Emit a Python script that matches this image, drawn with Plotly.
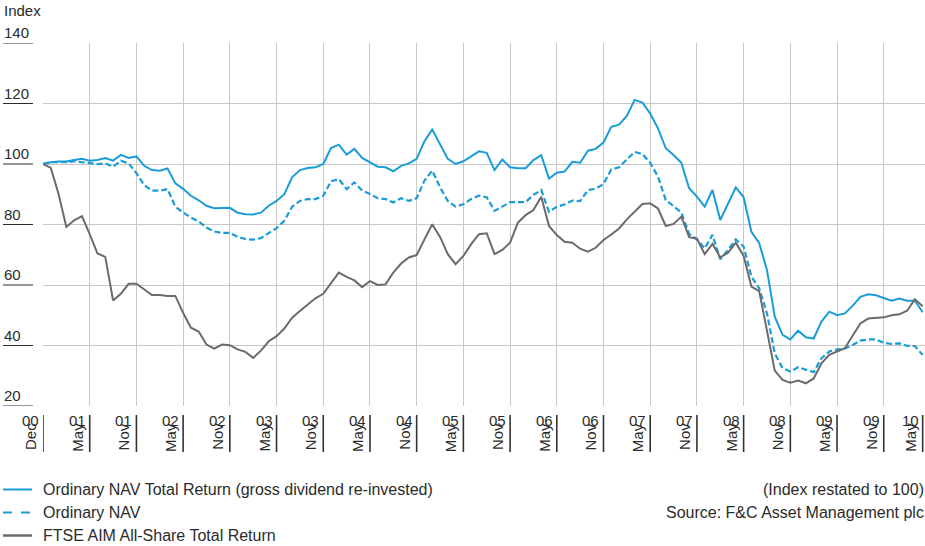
import plotly.graph_objects as go

# ---- data (monthly, Dec 2000 = 100) ----
nav_total_return = [100, 100.6, 100.8, 100.8, 101.3, 101.7, 101.1, 101.3, 102, 101.1, 103, 102, 102.5, 99.4, 98, 97.8, 98.5, 93.6, 91.8, 89.5, 88, 86.2, 85.4, 85.4, 85.5, 83.9, 83.4, 83.3, 83.9, 86.2, 87.8, 90, 95.6, 98, 98.7, 98.9, 100, 105.3, 106.4, 103.1, 105, 102, 100.6, 99.1, 98.9, 97.6, 99.4, 100.2, 101.7, 107.5, 111.4, 106.6, 101.7, 100, 100.9, 102.5, 104.2,
                    103.7, 98, 101.5, 98.9, 98.6, 98.6, 101.3, 102.9, 95.2, 97.1, 97.5, 100.7, 100.4, 104.4, 105, 107.1, 112.3, 113, 115.9, 121.2, 120.3, 116.7, 111.8, 105.2, 103, 100.4, 92, 89.2, 85.9, 91.4, 81.5, 86.8, 92.3, 89, 77.6, 73.8, 65, 49.5, 43.5, 42, 44.9, 42.7, 42.3, 47.9, 51.2, 50, 50.6, 53.1, 56.1, 56.9, 56.6, 55.7, 54.8, 55.5, 54.8, 54.8, 51]
nav = [100, 100.6, 100.6, 100.6, 100.9, 100.6, 100.2, 100, 100.2, 99.1, 101.1, 100.2, 97, 93, 91.2, 91.2, 91.7, 85.9, 84, 82.3, 81, 79, 77.7, 77.2, 77.2, 75.9, 75.2, 75, 75.5, 77.3, 78.8, 81.2, 85.9, 87.8, 88.4, 88.4, 89.5, 94.3, 95, 91.7, 93.9, 91.2, 90.1, 88.7, 88.4, 87.3, 88.7, 87.8, 88.7, 94.5, 97.8, 92.3, 87.8, 85.9, 86.7, 88.4, 89.5,
       89, 84.5, 85.9, 87.4, 87.4, 87.4, 89.8, 91.4, 84.2, 85.9, 86.6, 87.9, 87.7, 91.4, 91.8, 93.4, 98.2, 98.9, 101.5, 104, 103.3, 100.4, 95.8, 88.1, 86.1, 83.9, 76.9, 75.1, 72.1, 76.6, 68.5, 71.6, 75.1, 72.7, 62.8, 58.9, 50.6, 37.4, 32.5, 31.4, 32.8, 31.9, 31.2, 35.8, 38, 38.7, 39, 40.2, 41.6, 42, 42, 40.9, 40.5, 40.7, 39.9, 39.8, 36.9]
aim_total_return = [100, 98.7, 90.1, 79.2, 81.4, 82.8, 76.8, 70.4, 69.3, 54.9, 57.1, 60.4, 60.4, 58.6, 56.7, 56.7, 56.4, 56.4, 50.8, 45.9, 44.6, 40.3, 39, 40.3, 40.1, 38.7, 37.9, 35.9, 38.3, 41.4, 43.1, 45.6, 49.2, 51.4, 53.6, 55.6, 57.1, 60.8, 64.1, 62.7, 61.5, 59.3, 61.3, 60, 60.2, 64.1, 67.1, 69.1, 69.9, 75.1, 80.1, 75.9, 70.2, 66.9, 69.6, 73.5, 76.8,
                    77.1, 70.2, 71.6, 74, 80.6, 83.1, 84.8, 89.2, 79.5, 76.5, 74.3, 74, 72, 71, 72.3, 74.9, 76.7, 78.7, 81.7, 84.2, 86.8, 87, 85.3, 79.5, 80.2, 82.6, 75.8, 75.3, 70.2, 73.6, 69.1, 70.7, 74, 69.6, 59.5, 58, 44.6, 31.7, 28.6, 27.7, 28.4, 27.5, 29.1, 34.1, 36.9, 38, 39.1, 43.2, 47.3, 48.9, 49.1, 49.3, 50, 50.3, 51.5, 55.3, 53]

tick_months = ["Dec"] + ["May", "Nov"] * 9 + ["May"]
tick_years = ["00", "01", "01", "02", "02", "03", "03", "04", "04", "05",
              "05", "06", "06", "07", "07", "08", "08", "09", "09", "10"]
y_ticks = [20, 40, 60, 80, 100, 120, 140]

series_names = ["Ordinary NAV Total Return (gross dividend re-invested)",
                "Ordinary NAV", "FTSE AIM All-Share Total Return"]
notes = ["(Index restated to 100)", "Source: F&C Asset Management plc"]

# ---- styling ----
BLUE = "#1a9cd8"
GREY = "#6b6b6d"
TEXT = "#2b2b2b"
FONT = "Liberation Sans, Arial, sans-serif"
FS = 15
FS_LEG = 16

n = len(nav)
x = list(range(n))
tick_pos = [min(6 * i, n - 1) for i in range(len(tick_months))]

fig = go.Figure()
fig.add_trace(go.Scatter(x=x, y=nav_total_return, mode="lines",
                         line=dict(color=BLUE, width=2), name=series_names[0]))
fig.add_trace(go.Scatter(x=x, y=nav, mode="lines",
                         line=dict(color=BLUE, width=2.2, dash="6px,3px"), name=series_names[1]))
fig.add_trace(go.Scatter(x=x, y=aim_total_return, mode="lines",
                         line=dict(color=GREY, width=2), name=series_names[2]))

L, R, T, B = 43, 0, 43, 140
W, H = 925, 546
pw = W - L - R
ph = H - T - B

def px_x(p):  # pixel offset from plot left -> paper
    return p / pw

def px_y(p):  # pixel y (from top of page) -> paper
    return (H - B - p) / ph

shapes = []
annotations = []

# y labels with underline
for v in y_ticks:
    shapes.append(dict(type="line", xref="paper", yref="y",
                       x0=px_x(3 - L), x1=px_x(33 - L), y0=v, y1=v,
                       line=dict(color=TEXT, width=1)))
    annotations.append(dict(xref="paper", yref="y", x=px_x(2 - L), y=v,
                            text=str(v), showarrow=False, xanchor="left",
                            yanchor="bottom", yshift=0,
                            font=dict(family=FONT, size=FS, color=TEXT)))

annotations.append(dict(xref="paper", yref="paper", x=px_x(2 - L), y=px_y(10),
                        text="Index", showarrow=False, xanchor="left", yanchor="middle",
                        font=dict(family=FONT, size=FS, color=TEXT)))

# x labels: year (horizontal) + month (rotated) + tick bar
for pos, mo, yr in zip(tick_pos, tick_months, tick_years):
    shapes.append(dict(type="line", xref="x", yref="paper", x0=pos, x1=pos,
                       y0=px_y(415), y1=px_y(452), layer="above",
                       line=dict(color="#333333", width=1.6)))
    annotations.append(dict(xref="x", yref="paper", x=pos, y=px_y(410),
                            text=yr, showarrow=False, xanchor="right", yanchor="top",
                            xshift=-2, font=dict(family=FONT, size=FS, color=TEXT)))
    annotations.append(dict(xref="x", yref="paper", x=pos, y=px_y(421),
                            text=mo, showarrow=False, textangle=-90,
                            xanchor="right", yanchor="top", xshift=-2,
                            font=dict(family=FONT, size=FS, color=TEXT)))

# legend (manual)
leg_y = [489.5, 512.5, 535.5]
leg_styles = [dict(color=BLUE, width=2), dict(color=BLUE, width=2.2, dash="dash"),
              dict(color=GREY, width=2.5)]
for yy, name, st in zip(leg_y, series_names, leg_styles):
    shapes.append(dict(type="line", xref="paper", yref="paper",
                       x0=px_x(3 - L), x1=px_x(32 - L), y0=px_y(yy), y1=px_y(yy), line=st))
    annotations.append(dict(xref="paper", yref="paper", x=px_x(41 - L), y=px_y(yy),
                            text=name, showarrow=False, xanchor="left", yanchor="middle",
                            font=dict(family=FONT, size=FS_LEG, color=TEXT)))
for yy, note in zip(leg_y[:2], notes):
    annotations.append(dict(xref="paper", yref="paper", x=px_x(926 - L), y=px_y(yy),
                            text=note, showarrow=False, xanchor="right", yanchor="middle",
                            font=dict(family=FONT, size=FS_LEG, color=TEXT)))

fig.update_layout(
    width=W, height=H,
    margin=dict(l=L, r=R, t=T, b=B, pad=0),
    paper_bgcolor="white", plot_bgcolor="white",
    showlegend=False,
    font=dict(family=FONT, size=FS, color=TEXT),
    xaxis=dict(range=[0, 113.3], tickvals=tick_pos[:-1], showticklabels=False,
               showgrid=True, gridcolor="#c8c8c8", gridwidth=1, zeroline=False,
               showline=False, ticks=""),
    yaxis=dict(range=[20, 140], tickvals=y_ticks, showticklabels=False,
               showgrid=True, gridcolor="#c8c8c8", gridwidth=1, zeroline=False,
               showline=False, ticks=""),
    shapes=shapes, annotations=annotations,
)

fig.write_html("out.html", config={"displayModeBar": False},
               post_script="document.body.style.margin='0';document.body.style.padding='0';document.body.style.overflow='hidden';")
